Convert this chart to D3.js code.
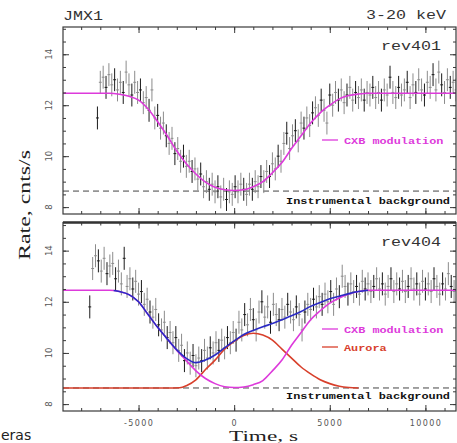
<!DOCTYPE html>
<html lang="en">
<head>
<meta charset="UTF-8">
<title>JMX1 3-20 keV light curves</title>
<style>
  body { margin: 0; background: #fff; }
  svg { display: block; }
  .frame { fill: none; stroke: #3a3a3a; stroke-width: 1.2px; }
  .axis .domain { display: none; }
  .axis .tick line { stroke: #3a3a3a; stroke-width: 1px; }
  .axis .tick text { fill: #555; font-family: "DejaVu Sans", sans-serif; font-size: 8px; letter-spacing: 1.4px; }
  .curve { fill: none; stroke-width: 1.6px; }
</style>
</head>
<body>
<svg width="457" height="443"></svg>
<script src="https://d3js.org/d3.v7.min.js"></script>
<script>
// ---- data ----
const xMajorTicks = [-5000, 0, 5000, 10000];
const xTickLabels = ["-5000", "0", "5000", "10000"];
const yMajorTicks = [8, 10, 12, 14];
const yTickLabels = ["8", "10", "12", "14"];

const binWidth = 150;      // s, time bin of the light curves
const errHalf = 0.45;      // cnts/s, typical 1-sigma error
const bgLevel = 8.63;      // instrumental background

// rev401: first bin at -7150 s
const rev401Start = -7150;
const rev401Rate = [
  11.5, 12.9, 13.1, 12.7, 13.2, 12.8, 13.0, 12.6, 12.9, 12.5,
  13.3, 12.8, 12.4, 12.9, 12.5, 12.6, 12.1, 12.3, 11.8, 12.6,
  11.5, 11.6, 11.1, 11.3, 10.8, 10.5, 10.7, 10.1, 10.3, 9.8,
  10.0, 9.6, 9.8, 9.4, 9.5, 9.1, 9.3, 8.8, 9.0, 8.7,
  8.9, 8.6, 8.8, 8.4, 8.7, 8.3, 8.6, 8.5, 8.8, 8.6,
  8.9, 8.7, 8.5, 8.9, 8.7, 9.0, 8.8, 9.2, 9.0, 9.4,
  9.2, 9.7, 9.5, 10.0, 9.8, 10.5, 10.9, 10.3, 10.8, 11.0,
  10.6, 11.3, 11.1, 11.5, 11.2, 11.7, 11.9, 11.6, 12.2, 11.8,
  11.3, 12.4, 12.0, 12.5, 12.2, 12.6, 12.1, 12.4, 12.7, 12.2,
  12.5, 12.3, 12.6, 12.2, 12.5, 12.4, 12.7, 12.3, 12.5, 12.2,
  12.6, 12.4, 13.1, 12.5, 12.3, 12.7, 12.4, 12.6, 12.9, 12.3,
  12.8, 12.5, 13.0, 12.6, 12.4, 12.9, 12.7, 13.2, 12.6, 13.3,
  12.8, 12.5, 13.0, 12.7, 12.9, 12.6
];

// rev404: first bin at -7550 s
const rev404Start = -7550;
const rev404Rate = [
  11.8, 13.3, 13.8, 13.6, 13.2, 13.7, 13.1, 13.4, 13.5, 12.9,
  13.2, 12.7, 13.7, 12.6, 12.9, 12.5, 12.8, 12.3, 12.4, 11.9,
  12.1, 11.6, 11.4, 11.7, 11.1, 10.9, 11.2, 10.6, 10.8, 10.4,
  10.6, 10.1, 10.3, 9.7, 10.0, 9.6, 9.9, 9.5, 9.8, 9.7,
  10.1, 9.8, 10.2, 10.0, 10.4, 10.1, 10.5, 10.2, 10.6, 10.4,
  10.8, 10.5, 11.2, 10.9, 11.5, 11.1, 11.7, 11.3, 10.9, 11.6,
  12.0, 11.4, 11.8, 11.2, 11.9, 11.5, 11.3, 11.7, 11.4, 11.9,
  11.6, 11.3, 11.8, 11.5, 10.9, 11.6, 11.9, 11.7, 12.1, 11.8,
  12.2, 11.9, 12.3, 12.0, 12.4, 11.9, 12.5, 12.2, 13.0, 12.6,
  12.3, 12.7, 12.4, 12.6, 12.3, 12.8, 12.5, 12.7, 12.4, 12.6,
  12.9, 12.5, 12.7, 12.3, 12.6, 12.9, 12.4, 12.7, 12.5, 12.8,
  12.4, 12.6, 12.9, 12.5, 12.7, 12.3, 12.8, 12.5, 12.7, 12.4,
  12.9, 12.6, 12.3, 12.7, 12.5, 13.1, 12.6, 12.4
];

// model curves
const cxb401Time = [-8950, -6500, -6000, -5500, -5000, -4500, -4000, -3500, -3000, -2500, -2000, -1500, -1000, -500, 0,
  500, 1000, 1500, 2000, 2500, 3000, 3500, 4000, 4500, 5000, 5500, 6000, 6500, 7000, 11600];
const cxb401 = [12.47, 12.47, 12.43, 12.35, 12.2, 11.85, 11.35, 10.8, 10.2, 9.7, 9.3, 8.98, 8.78, 8.68, 8.65,
  8.68, 8.8, 9.0, 9.35, 9.75, 10.3, 10.8, 11.3, 11.7, 12.0, 12.25, 12.38, 12.44, 12.47, 12.47];

const cxb404Time = [-8950, -6500, -6000, -5500, -5000, -4500, -4000, -3500, -3000, -2500, -2000, -1500, -1000, -500, 0,
  500, 1000, 1500, 2000, 2500, 3000, 3500, 4000, 4500, 5000, 5500, 6000, 6500, 7000, 11600];
const cxb404 = [12.45, 12.45, 12.4, 12.28, 12.0, 11.5, 11.0, 10.55, 10.1, 9.7, 9.3, 9.0, 8.8, 8.68, 8.65,
  8.67, 8.76, 8.92, 9.3, 9.72, 10.3, 10.8, 11.3, 11.65, 11.95, 12.15, 12.3, 12.4, 12.45, 12.45];

const auroraTime = [-8950, -3500, -2850, -2500, -2000, -1500, -1000, -500, 0, 500, 1000, 1500, 2000, 2500,
  3000, 3500, 4000, 4500, 5000, 5500, 6000, 6500];
const aurora = [8.63, 8.63, 8.64, 8.72, 8.95, 9.35, 9.72, 10.15, 10.45, 10.68, 10.77, 10.7, 10.5, 10.15,
  9.8, 9.45, 9.18, 8.95, 8.8, 8.7, 8.65, 8.63];

const totalTime = [-6300, -6000, -5500, -5000, -4500, -4000, -3500, -3000, -2500, -2000, -1500, -1000, -500, 0,
  500, 1000, 1500, 2000, 2500, 3000, 3500, 4000, 4500, 5000, 5500, 6000, 6500, 7000];
const total = [12.44, 12.4, 12.28, 12.0, 11.5, 11.0, 10.55, 10.12, 9.79, 9.62, 9.72, 9.92, 10.2, 10.47,
  10.72, 10.88, 11.02, 11.15, 11.3, 11.45, 11.62, 11.82, 11.97, 12.12, 12.22, 12.32, 12.4, 12.45];

// ---- layout ----
const svg = d3.select("svg");
const left = 63, right = 456;
const x = d3.scaleLinear().domain([-8950, 11600]).range([left, right]);

const colMagenta = "#dd3adb", colBlue = "#2a2ac4", colRed = "#d8402c";

const panels = [
  { name: "rev401", top: 27, bottom: 214, dom: [7.73, 15.07], start: rev401Start, rate: rev401Rate,
    curves: [ { t: cxb401Time, v: cxb401, c: colMagenta } ],
    legend: [ { label: "CXB modulation", c: colMagenta, y: 140 } ],
    bgTextY: 204, nameY: 50 },
  { name: "rev404", top: 222.5, bottom: 411, dom: [7.73, 15.1], start: rev404Start, rate: rev404Rate,
    curves: [ { t: auroraTime, v: aurora, c: colRed },
              { t: cxb404Time, v: cxb404, c: colMagenta },
              { t: totalTime, v: total, c: colBlue } ],
    legend: [ { label: "CXB modulation", c: colMagenta, y: 329 },
              { label: "Aurora", c: colRed, y: 347 } ],
    bgTextY: 399, nameY: 246 }
];

panels.forEach(function(p, pi) {
  const y = d3.scaleLinear().domain(p.dom).range([p.bottom, p.top]);
  const g = svg.append("g");
  const clipId = "clip" + pi;
  svg.append("clipPath").attr("id", clipId).append("rect")
    .attr("x", left).attr("y", p.top).attr("width", right - left).attr("height", p.bottom - p.top);
  const plot = g.append("g").attr("clip-path", "url(#" + clipId + ")");

  // background dashed line
  plot.append("line")
    .attr("x1", x(-8950)).attr("x2", x(11600))
    .attr("y1", y(bgLevel)).attr("y2", y(bgLevel))
    .attr("stroke", "#444").attr("stroke-width", 1).attr("stroke-dasharray", "6,4");

  // error bars
  const pts = p.rate.map(function(v, i) { return { t: p.start + i * binWidth, v: v, i: i }; });
  const eb = plot.append("g").selectAll("g").data(pts).enter().append("g")
    .attr("stroke", function(d) { return d.i % 3 === 0 ? "#1a1a1a" : "#8c8c8c"; })
    .attr("stroke-width", 1);
  eb.append("line")
    .attr("x1", function(d) { return x(d.t); }).attr("x2", function(d) { return x(d.t); })
    .attr("y1", function(d) { return y(d.v - errHalf); }).attr("y2", function(d) { return y(d.v + errHalf); });
  eb.append("line")
    .attr("x1", function(d) { return x(d.t - binWidth / 2); }).attr("x2", function(d) { return x(d.t + binWidth / 2); })
    .attr("y1", function(d) { return y(d.v); }).attr("y2", function(d) { return y(d.v); });

  // model curves
  const line = d3.line().x(function(d) { return x(d[0]); }).y(function(d) { return y(d[1]); })
    .curve(d3.curveMonotoneX);
  p.curves.forEach(function(c) {
    plot.append("path").attr("class", "curve")
      .attr("stroke", c.c)
      .attr("d", line(c.t.map(function(t, i) { return [t, c.v[i]]; })));
  });

  // legend
  p.legend.forEach(function(l) {
    g.append("line").attr("x1", 322).attr("x2", 338).attr("y1", l.y).attr("y2", l.y)
      .attr("stroke", l.c).attr("stroke-width", 1.3);
    g.append("text").attr("x", 344).attr("y", l.y + 3.5)
      .attr("fill", l.c)
      .style("font-family", "'Liberation Mono', monospace").style("font-weight", "bold").style("font-size", "9.5px")
      .attr("textLength", l.label.length * 7.1).attr("lengthAdjust", "spacingAndGlyphs")
      .text(l.label);
  });
  g.append("text").attr("x", 286).attr("y", p.bgTextY)
    .attr("fill", "#111")
    .style("font-family", "'Liberation Mono', monospace").style("font-weight", "bold").style("font-size", "9.5px")
    .attr("textLength", 164).attr("lengthAdjust", "spacingAndGlyphs")
    .text("Instrumental background");

  // revolution label
  g.append("text").attr("x", 441).attr("y", p.nameY).attr("text-anchor", "end")
    .attr("fill", "#333")
    .style("font-family", "'Liberation Mono', monospace").style("font-size", "13px")
    .attr("textLength", 60).attr("lengthAdjust", "spacingAndGlyphs")
    .text(p.name);

  // axes: ticks pointing inward on all four sides
  const minorX = d3.range(-8000, 11001, 1000);
  const minorY = d3.range(8, 15.01, 0.5);
  const addAxis = function(axis, tf) {
    g.append("g").attr("class", "axis").attr("transform", tf).call(axis);
  };
  addAxis(d3.axisBottom(x).tickValues(minorX).tickSize(-3).tickFormat(""), "translate(0," + p.bottom + ")");
  addAxis(d3.axisTop(x).tickValues(minorX).tickSize(-3).tickFormat(""), "translate(0," + p.top + ")");
  addAxis(d3.axisBottom(x).tickValues(xMajorTicks).tickSize(-6).tickPadding(9)
    .tickFormat(pi === 1 ? function(d, i) { return xTickLabels[i]; } : ""), "translate(0," + p.bottom + ")");
  addAxis(d3.axisTop(x).tickValues(xMajorTicks).tickSize(-6).tickFormat(""), "translate(0," + p.top + ")");
  addAxis(d3.axisLeft(y).tickValues(minorY).tickSize(-3).tickFormat(""), "translate(" + left + ",0)");
  addAxis(d3.axisRight(y).tickValues(minorY).tickSize(-3).tickFormat(""), "translate(" + right + ",0)");
  addAxis(d3.axisLeft(y).tickValues(yMajorTicks).tickSize(-6).tickFormat(""), "translate(" + left + ",0)");
  addAxis(d3.axisRight(y).tickValues(yMajorTicks).tickSize(-6).tickFormat(""), "translate(" + right + ",0)");

  // rotated y tick labels
  yMajorTicks.forEach(function(v, i) {
    g.append("text")
      .attr("transform", "translate(52," + y(v) + ") rotate(-90)")
      .attr("text-anchor", "middle")
      .attr("fill", "#555")
      .style("font-family", "'DejaVu Sans', sans-serif").style("font-size", "8.5px")
      .text(yTickLabels[i]);
  });

  // frame
  g.append("rect").attr("class", "frame")
    .attr("x", left).attr("y", p.top).attr("width", right - left).attr("height", p.bottom - p.top);
});

// thicker separator at top of lower panel
svg.append("line").attr("x1", left).attr("x2", right).attr("y1", 222.5).attr("y2", 222.5)
  .attr("stroke", "#333").attr("stroke-width", 2.4);

// titles
svg.append("text").attr("x", 63).attr("y", 20).attr("fill", "#333")
  .style("font-family", "'Liberation Mono', monospace").style("font-size", "12px")
  .attr("textLength", 40).attr("lengthAdjust", "spacingAndGlyphs")
  .text("JMX1");
svg.append("text").attr("x", 446).attr("y", 19).attr("text-anchor", "end").attr("fill", "#333")
  .style("font-family", "'Liberation Mono', monospace").style("font-size", "12.5px")
  .attr("textLength", 80).attr("lengthAdjust", "spacingAndGlyphs")
  .text("3-20 keV");

// axis titles
svg.append("text").attr("x", 229).attr("y", 441).attr("fill", "#222")
  .style("font-family", "'Liberation Serif', serif").style("font-size", "15px")
  .attr("textLength", 69).attr("lengthAdjust", "spacingAndGlyphs")
  .text("Time, s");
svg.append("text")
  .attr("transform", "translate(30,260) rotate(-90)")
  .attr("fill", "#222")
  .style("font-family", "'Liberation Serif', serif").style("font-size", "17px")
  .attr("textLength", 110).attr("lengthAdjust", "spacingAndGlyphs")
  .text("Rate, cnts/s");

// caption fragment at the bottom-left edge
svg.append("text").attr("x", 1).attr("y", 440).attr("fill", "#222")
  .style("font-family", "'DejaVu Sans', sans-serif").style("font-size", "14px")
  .text("eras");
</script>
</body>
</html>
